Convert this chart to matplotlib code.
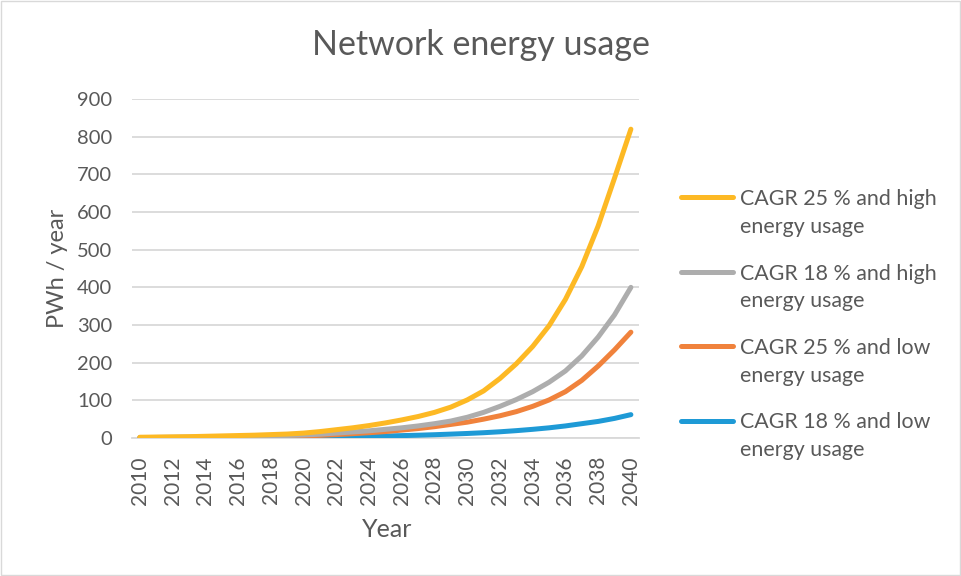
import matplotlib.pyplot as plt
from matplotlib.lines import Line2D
from matplotlib.patches import Rectangle

plt.rcParams['font.family'] = ['Lato', 'DejaVu Sans']

years = list(range(2010, 2041))

# values (PWh / year)
high_25 = [2, 2.5, 3, 3.5, 4.5, 5.5, 6.5, 7.5, 9, 10.5, 13, 17, 22, 27, 33, 40,
           48, 57, 68, 82, 101, 125, 158, 197, 243, 298, 368, 455, 563, 690, 820]
high_18 = [1, 1.5, 2, 2.5, 3, 3.5, 4, 5, 5.5, 6.5, 8, 10, 13, 16, 19, 23,
           27, 32, 38, 45, 55, 68, 84, 102, 123, 148, 178, 218, 268, 327, 400]
low_25 = [0.3, 0.5, 0.7, 1, 1.3, 1.7, 2.2, 2.8, 3.5, 4.5, 5.5, 7, 9, 11.5, 14, 17,
          21, 25, 30, 36, 42, 50, 59, 70, 84, 101, 123, 153, 191, 234, 281]
low_18 = [0.4, 0.5, 0.6, 0.7, 0.8, 1, 1.2, 1.4, 1.6, 1.9, 2.3, 2.7, 3.2, 3.8, 4.5, 5.3,
          6.3, 7.4, 8.7, 10.3, 12, 14, 16.5, 19.5, 23, 27, 32, 38, 44, 52, 62]

labels = ['CAGR 25 % and high\nenergy usage', 'CAGR 18 % and high\nenergy usage',
          'CAGR 25 % and low\nenergy usage', 'CAGR 18 % and low\nenergy usage']
colors = ['#FDB924', '#ADADAD', '#F0823C', '#1E9AD6']
series = [high_25, high_18, low_25, low_18]

txt = '#595959'
grid = '#D9D9D9'

fig = plt.figure(figsize=(9.61, 5.76), dpi=100)
ax = fig.add_axes([0.137, 0.2396, 0.528, 0.5884])

# draw low ones first so the high curve sits on top
for vals, c in reversed(list(zip(series, colors))):
    ax.plot(years, vals, color=c, lw=3.6, solid_capstyle='round',
            solid_joinstyle='round', zorder=3)

ax.set_xlim(2009.5, 2040.5)
ax.set_ylim(0, 900)
ax.set_yticks(range(0, 901, 100))
ax.set_xticks(range(2010, 2041, 2))
ax.tick_params(axis='x', labelrotation=90, length=0, pad=13, labelsize=15, labelcolor=txt)
ax.tick_params(axis='y', length=0, pad=14, labelsize=14.5, labelcolor=txt)
ax.yaxis.grid(True, color=grid, lw=1.3)
ax.set_axisbelow(True)
for s in ['top', 'right', 'left']:
    ax.spines[s].set_visible(False)
ax.spines['bottom'].set_color(grid)
ax.spines['bottom'].set_linewidth(1.3)

ax.set_xlabel('Year', fontsize=18, color=txt)
ax.xaxis.set_label_coords(0.503, -0.235)
ax.set_ylabel('PWh / year', fontsize=17, color=txt)
ax.yaxis.set_label_coords(-0.126, 0.5)
fig.text(0.5, 0.922, 'Network energy usage', ha='center', va='center', fontsize=24.5, color=txt)

# legend, built by hand so the swatch lines up with the first text line
W, H = 961, 576
for i, (lab, c) in enumerate(zip(labels, colors)):
    y = 197 + i * 74.5
    fig.add_artist(Line2D([681 / W, 733 / W], [1 - y / H, 1 - y / H], color=c, lw=3.6,
                          solid_capstyle='round'))
    fig.text(740 / W, 1 - (y - 8) / H, lab, ha='left', va='top', fontsize=15.4,
             color=txt, linespacing=1.47)

fig.add_artist(Rectangle((0.001, 0.001), 0.998, 0.998, transform=fig.transFigure,
                         fill=False, edgecolor=grid, lw=1))

plt.savefig('out.png', dpi=100)
